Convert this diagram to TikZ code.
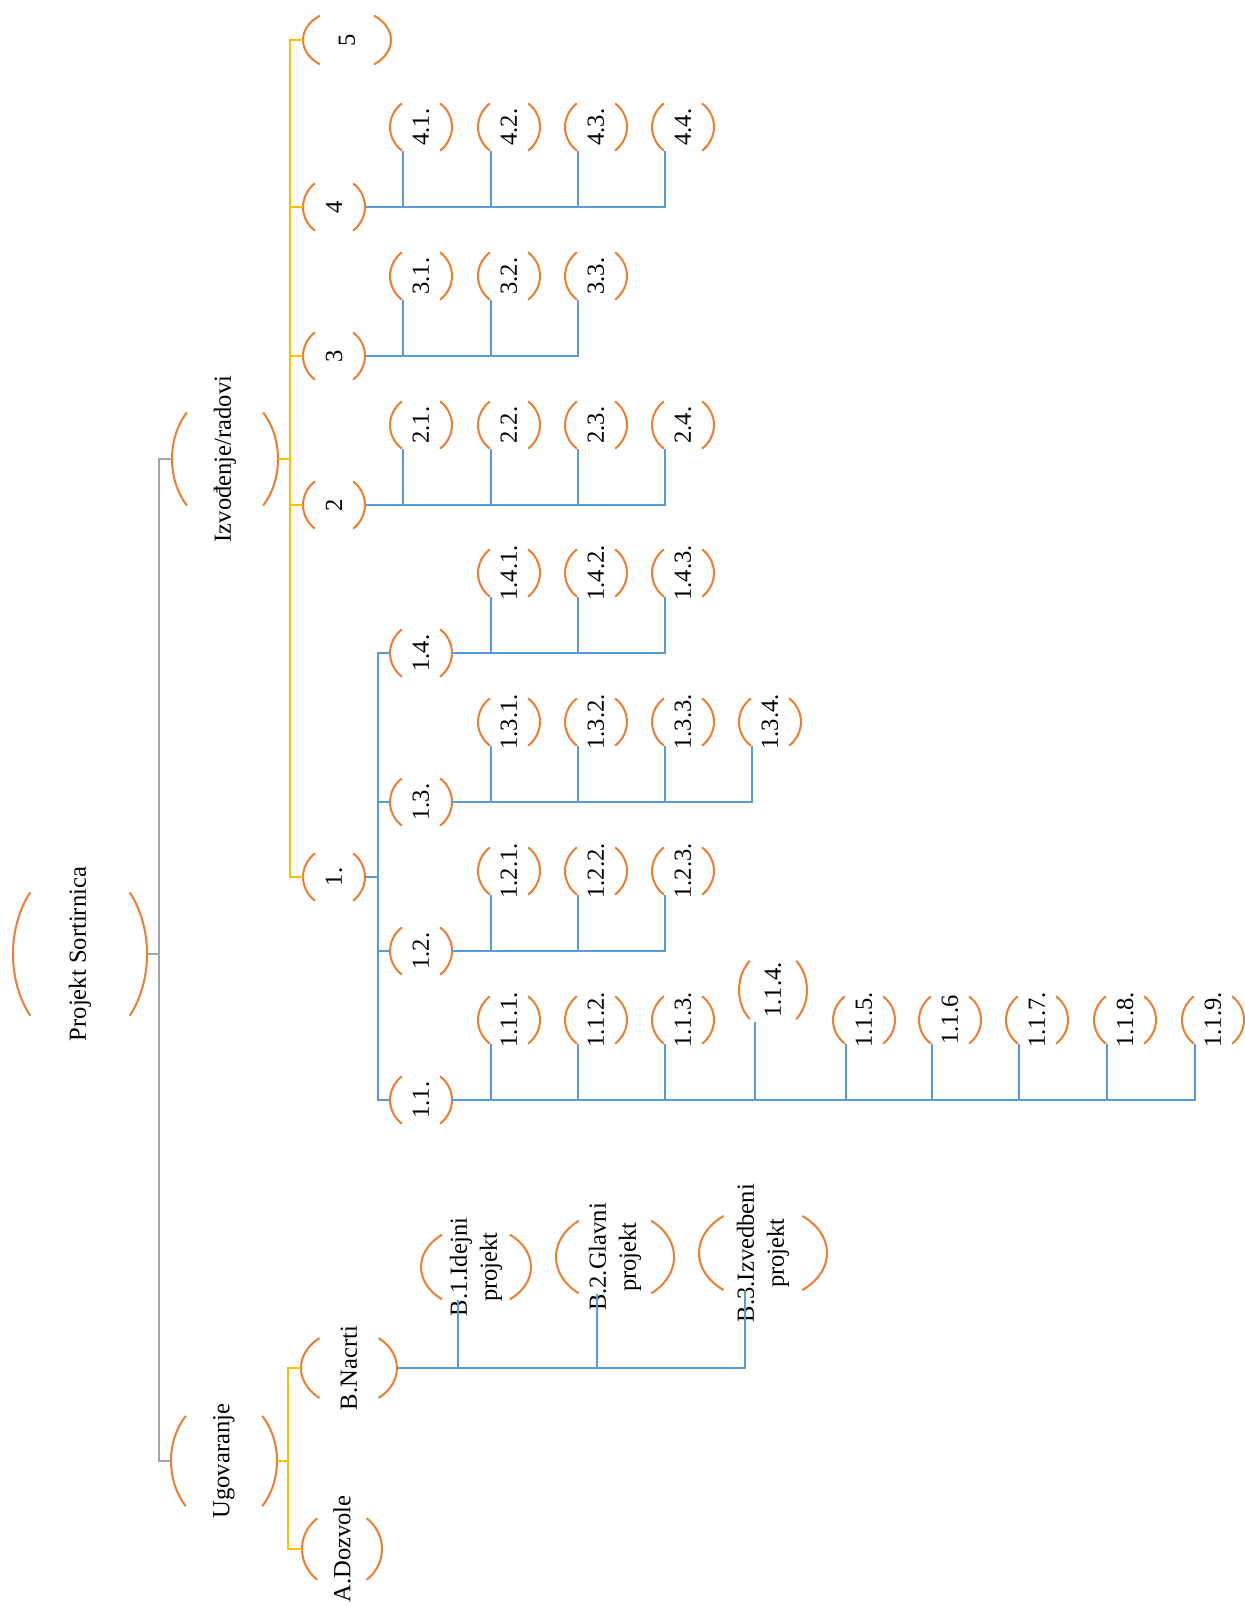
\documentclass[tikz,border=0pt]{standalone}
\usepackage{fontspec}
\setmainfont{Liberation Serif}
\usepackage{tikz}
\usepackage{xcolor}
\definecolor{wbsorange}{HTML}{ED7D31}
\definecolor{wbsblue}{HTML}{5B9BD5}
\definecolor{wbsyellow}{HTML}{FFC000}
\definecolor{wbsgray}{HTML}{A5A5A5}
\tikzstyle{lbl} = [rotate=90, inner sep=0pt, align=center, font=\fontsize{12.3}{15}\selectfont]
\tikzstyle{rim} = [draw=wbsorange, line width=1pt]
\tikzstyle{bl} = [draw=wbsblue, line width=1pt]
\tikzstyle{yl} = [draw=wbsyellow, line width=1pt]
\tikzstyle{gr} = [draw=wbsgray, line width=1pt]

% \wbs[half angle]{name}{x,y}{rx}{ry}{text}
\newcommand{\wbs}[6][52]{%
  \node[lbl] (#2) at (#3) {#6};
  \draw[rim] (#2.center) ++(180-#1:#4 and #5)
    arc[start angle=180-#1, end angle=180+#1, x radius=#4, y radius=#5];
  \draw[rim] (#2.center) ++(-#1:#4 and #5)
    arc[start angle=-#1, end angle=#1, x radius=#4, y radius=#5];
  \path (#2.center) ++(-#4,0) coordinate (#2-l);
  \path (#2.center) ++(#4,0) coordinate (#2-r);
  \path (#2.center) ++(-18,0.8*#5) coordinate (#2-in);
}

\begin{document}
\begin{tikzpicture}[x=0.5pt,y=-0.5pt]
  \useasboundingbox (0,0) rectangle (1245,1606);

  \wbs[42]{root}{80,954}{67}{92}{Projekt Sortirnica}
  \wbs[44]{izv}{225,459}{53}{67}{Izvođenje/radovi}
  \wbs[44]{ugo}{224,1461}{53}{65}{Ugovaranje}

  % Ugovaranje
  \wbs{ado}{342,1549}{40}{39}{A.Dozvole}
  \wbs{bna}{349,1368}{48}{38}{B.Nacrti}
  \wbs{bid}{476,1267}{55}{41}{B.1.Idejni\\projekt}
  \wbs{bgl}{615,1257}{59}{46}{B.2.Glavni\\projekt}
  \wbs{biz}{763,1253}{64}{47}{B.3.Izvedbeni\\projekt}

  % Izvodenje
  \wbs{n5}{347,40}{44}{31}{5}
  \wbs{n4}{334,207}{31}{30}{4}
  \wbs{n3}{334,356}{31}{30}{3}
  \wbs{n2}{334,505}{31}{30}{2}
  \wbs{n1}{334,877}{31}{30}{1.}

  \wbs{n41}{421,127}{31}{30}{4.1.}
  \wbs{n42}{509,127}{31}{30}{4.2.}
  \wbs{n43}{596,127}{31}{30}{4.3.}
  \wbs{n44}{683,127}{31}{30}{4.4.}

  \wbs{n31}{421,276}{31}{30}{3.1.}
  \wbs{n32}{509,276}{31}{30}{3.2.}
  \wbs{n33}{596,276}{31}{30}{3.3.}

  \wbs{n21}{421,425}{31}{30}{2.1.}
  \wbs{n22}{509,425}{31}{30}{2.2.}
  \wbs{n23}{596,425}{31}{30}{2.3.}
  \wbs{n24}{683,425}{31}{30}{2.4.}

  \wbs{n14}{421,653}{31}{30}{1.4.}
  \wbs{n13}{421,802}{31}{30}{1.3.}
  \wbs{n12}{421,951}{31}{30}{1.2.}
  \wbs{n11}{421,1100}{31}{30}{1.1.}

  \wbs{n141}{509,573}{31}{30}{1.4.1.}
  \wbs{n142}{596,573}{31}{30}{1.4.2.}
  \wbs{n143}{683,573}{31}{30}{1.4.3.}

  \wbs{n131}{509,722}{31}{30}{1.3.1.}
  \wbs{n132}{596,722}{31}{30}{1.3.2.}
  \wbs{n133}{683,722}{31}{30}{1.3.3.}
  \wbs{n134}{770,722}{31}{30}{1.3.4.}

  \wbs{n121}{509,871}{31}{30}{1.2.1.}
  \wbs{n122}{596,871}{31}{30}{1.2.2.}
  \wbs{n123}{683,871}{31}{30}{1.2.3.}

  \wbs{n111}{509,1020}{31}{30}{1.1.1.}
  \wbs{n112}{596,1020}{31}{30}{1.1.2.}
  \wbs{n113}{683,1020}{31}{30}{1.1.3.}
  \wbs[47]{n114}{773,990}{34}{40}{1.1.4.}
  \wbs{n115}{864,1020}{31}{30}{1.1.5.}
  \wbs{n116}{950,1020}{31}{30}{1.1.6}
  \wbs{n117}{1037,1020}{31}{30}{1.1.7.}
  \wbs{n118}{1125,1020}{31}{30}{1.1.8.}
  \wbs{n119}{1213,1020}{31}{30}{1.1.9.}

  % vertical buses
  \coordinate (rootbus) at (159,954);
  \coordinate (izvbus) at (290,459);
  \coordinate (ugobus) at (288,1461);
  \coordinate (n1bus) at (378,877);

  \draw[gr] (root-r) -- (rootbus);
  \draw[gr] (izv-l) -| (rootbus) |- (ugo-l);

  \draw[yl] (izv-r) -- (izvbus);
  \draw[yl] (n5-l) -| (izvbus) |- (n1-l);
  \foreach \c in {n4,n3,n2}
    \draw[yl] (\c-l) -- (\c-l -| izvbus);

  \draw[yl] (ugo-r) -- (ugobus);
  \draw[yl] (bna-l) -| (ugobus) |- (ado-l);

  \draw[bl] (n1-r) -- (n1bus);
  \draw[bl] (n14-l) -| (n1bus) |- (n11-l);
  \foreach \c in {n13,n12}
    \draw[bl] (\c-l) -- (\c-l -| n1bus);

  % horizontal buses
  \draw[bl] (bna-r) -| (biz-in);
  \foreach \c in {bid,bgl}
    \draw[bl] (\c-in) -- (\c-in |- bna-r);

  \draw[bl] (n4-r) -| (n44-in);
  \foreach \c in {n41,n42,n43}
    \draw[bl] (\c-in) -- (\c-in |- n4-r);

  \draw[bl] (n3-r) -| (n33-in);
  \foreach \c in {n31,n32}
    \draw[bl] (\c-in) -- (\c-in |- n3-r);

  \draw[bl] (n2-r) -| (n24-in);
  \foreach \c in {n21,n22,n23}
    \draw[bl] (\c-in) -- (\c-in |- n2-r);

  \draw[bl] (n14-r) -| (n143-in);
  \foreach \c in {n141,n142}
    \draw[bl] (\c-in) -- (\c-in |- n14-r);

  \draw[bl] (n13-r) -| (n134-in);
  \foreach \c in {n131,n132,n133}
    \draw[bl] (\c-in) -- (\c-in |- n13-r);

  \draw[bl] (n12-r) -| (n123-in);
  \foreach \c in {n121,n122}
    \draw[bl] (\c-in) -- (\c-in |- n12-r);

  \draw[bl] (n11-r) -| (n119-in);
  \foreach \c in {n111,n112,n113,n114,n115,n116,n117,n118}
    \draw[bl] (\c-in) -- (\c-in |- n11-r);
\end{tikzpicture}
\end{document}
